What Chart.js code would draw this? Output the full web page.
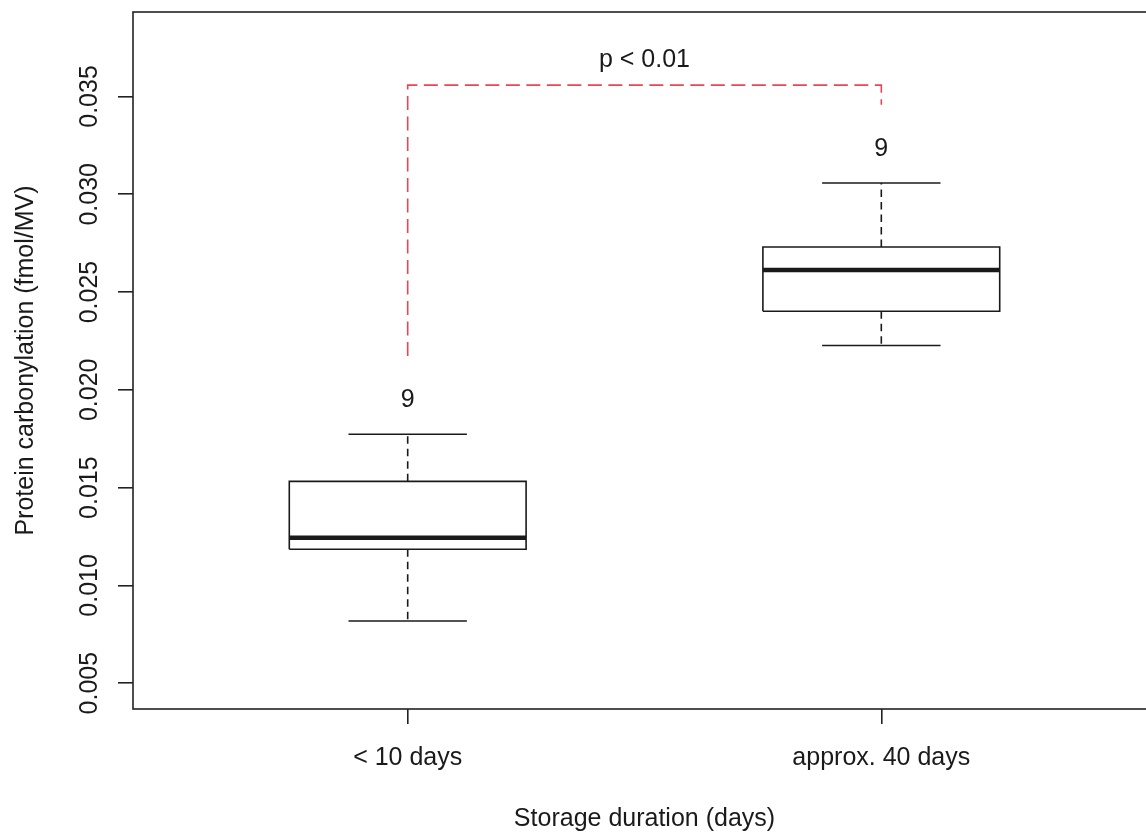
<!DOCTYPE html>
<html>
<head>
<meta charset="utf-8">
<script src="https://cdn.jsdelivr.net/npm/chart.js@4.4.1/dist/chart.umd.min.js"></script>
<style>
  html, body { margin: 0; padding: 0; overflow: hidden; background: #ffffff; }
  canvas { display: block; }
</style>
</head>
<body>
<canvas id="c" width="1162" height="833"></canvas>
<script>
// Storage groups and their box-plot summaries (fmol/MV)
const categories   = ['< 10 days', 'approx. 40 days'];
const whiskerLow   = [0.00818, 0.02227];
const quartile1    = [0.01185, 0.02402];
const medians      = [0.01244, 0.02613];
const quartile3    = [0.01532, 0.02730];
const whiskerHigh  = [0.01773, 0.03058];
const groupSizes   = [9, 9];

// Axis ticks
const yTicks = [0.005, 0.010, 0.015, 0.020, 0.025, 0.030, 0.035];
const xTicks = [1, 2];

// Significance bracket
const pValueText   = 'p < 0.01';
const bracketTop   = 0.03558;
const bracketLegs  = [0.02173, 0.03458];
const pValueY      = 0.03685;
const countOffset  = 0.00172;

// Axis limits with the usual 4% padding around the nominal range
const yLo = 0.005, yHi = 0.038;
const yPad = (yHi - yLo) * 0.04;
const xLo = 0.5, xHi = 2.5;
const xPad = (xHi - xLo) * 0.04;

const FONT = '"Liberation Sans", Arial, sans-serif';
const INK = '#1a1a1a';
const BOX_HALF = 0.25;
const CAP_HALF = 0.125;

const datasets = [];
const seg = (pts, width, dash, color) => datasets.push({
  data: pts, showLine: true, borderColor: color || INK, borderWidth: width,
  borderDash: dash || [], pointRadius: 0, fill: false, tension: 0,
  borderCapStyle: 'butt', borderJoinStyle: 'miter'
});

categories.forEach((_, i) => {
  const x = xTicks[i];
  // box
  seg([
    {x: x - BOX_HALF, y: quartile1[i]}, {x: x + BOX_HALF, y: quartile1[i]},
    {x: x + BOX_HALF, y: quartile3[i]}, {x: x - BOX_HALF, y: quartile3[i]},
    {x: x - BOX_HALF, y: quartile1[i]}
  ], 1.6);
  // whiskers
  seg([{x: x, y: quartile3[i]}, {x: x, y: whiskerHigh[i]}], 1.6, [7.5, 5]);
  seg([{x: x, y: quartile1[i]}, {x: x, y: whiskerLow[i]}], 1.6, [7.5, 5]);
  // caps
  seg([{x: x - CAP_HALF, y: whiskerHigh[i]}, {x: x + CAP_HALF, y: whiskerHigh[i]}], 1.6);
  seg([{x: x - CAP_HALF, y: whiskerLow[i]}, {x: x + CAP_HALF, y: whiskerLow[i]}], 1.6);
  // median
  seg([{x: x - BOX_HALF, y: medians[i]}, {x: x + BOX_HALF, y: medians[i]}], 4.5);
});

// bracket between the two groups
seg([
  {x: xTicks[0], y: bracketLegs[0]}, {x: xTicks[0], y: bracketTop},
  {x: xTicks[1], y: bracketTop}, {x: xTicks[1], y: bracketLegs[1]}
], 1.6, [14, 6.5], 'rgb(232,70,86)');

const annotations = {
  id: 'annotations',
  afterDatasetsDraw(chart) {
    const {ctx, scales: {x, y}, chartArea} = chart;
    ctx.save();
    ctx.fillStyle = INK;
    ctx.font = '25px ' + FONT;
    ctx.textAlign = 'center';
    ctx.textBaseline = 'middle';
    // group sizes above each upper whisker
    groupSizes.forEach((n, i) => {
      ctx.fillText(String(n), x.getPixelForValue(xTicks[i]), y.getPixelForValue(whiskerHigh[i] + countOffset));
    });
    // p-value over the bracket
    ctx.fillText(pValueText, x.getPixelForValue((xTicks[0] + xTicks[1]) / 2), y.getPixelForValue(pValueY));
    // vertical y tick labels
    ctx.textBaseline = 'alphabetic';
    yTicks.forEach(v => {
      ctx.save();
      ctx.translate(97, y.getPixelForValue(v));
      ctx.rotate(-Math.PI / 2);
      ctx.fillText(v.toFixed(3), 0, 0);
      ctx.restore();
    });
    // plot frame
    ctx.strokeStyle = '#222';
    ctx.lineWidth = 1.6;
    ctx.strokeRect(chartArea.left, chartArea.top, chartArea.right - chartArea.left, chartArea.bottom - chartArea.top);
    ctx.restore();
  }
};

new Chart(document.getElementById('c'), {
  type: 'scatter',
  data: { datasets },
  options: {
    responsive: false,
    animation: false,
    devicePixelRatio: 1,
    layout: { padding: { left: 0, top: 12, right: 6, bottom: 0 } },
    plugins: { legend: { display: false }, tooltip: { enabled: false } },
    scales: {
      x: {
        type: 'linear',
        min: xLo - xPad,
        max: xHi + xPad,
        afterBuildTicks: s => { s.ticks = xTicks.map(v => ({value: v})); },
        afterFit: s => { s.height = 124; },
        grid: { drawOnChartArea: false, drawTicks: true, tickLength: 15, color: '#222', lineWidth: 1.6 },
        border: { display: false },
        ticks: {
          autoSkip: false, maxRotation: 0, padding: 19, color: INK,
          font: { family: FONT, size: 25 },
          callback: v => categories[xTicks.indexOf(v)]
        },
        title: {
          display: true, text: 'Storage duration (days)', color: INK,
          font: { family: FONT, size: 25 }, padding: { top: 0, bottom: -1 }
        }
      },
      y: {
        type: 'linear',
        min: yLo - yPad,
        max: yHi + yPad,
        afterBuildTicks: s => { s.ticks = yTicks.map(v => ({value: v})); },
        afterFit: s => { s.width = 133; },
        grid: { drawOnChartArea: false, drawTicks: true, tickLength: 15, color: '#222', lineWidth: 1.6 },
        border: { display: false },
        // labels are drawn rotated by the annotations plugin
        ticks: { display: true, color: 'rgba(0,0,0,0)', font: { family: FONT, size: 1 } },
        title: {
          display: true, text: 'Protein carbonylation (fmol/MV)', color: INK,
          font: { family: FONT, size: 25 }, padding: { top: 11, bottom: 0 }
        }
      }
    }
  },
  plugins: [annotations]
});
</script>
</body>
</html>
